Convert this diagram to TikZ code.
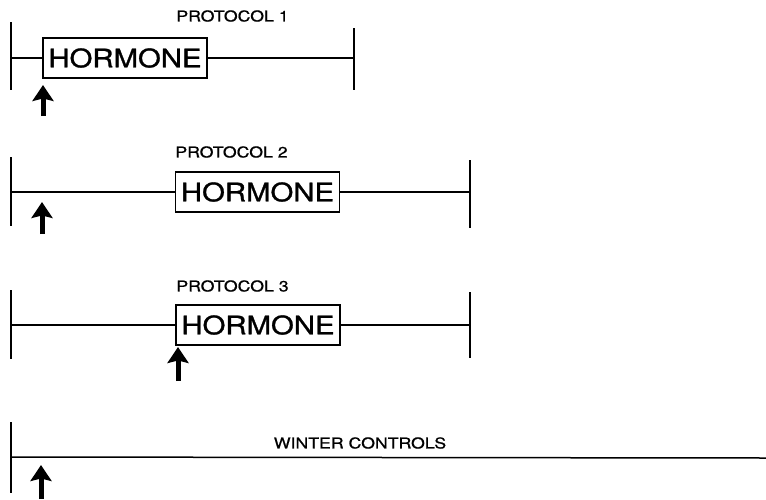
\documentclass[tikz,border=0pt]{standalone}
\usepackage{fontspec}
\setmainfont{TeX Gyre Heros}
\newfontfamily\boxfont[FakeStretch=1.15,FakeBold=1.2]{TeX Gyre Heros}
\newfontfamily\lblfont[FakeStretch=1.18,FakeBold=0.8]{TeX Gyre Heros}
\usetikzlibrary{arrows.meta}
\tikzset{
  hbox/.style={draw, line width=1.5pt, inner sep=0pt, minimum width=164pt, minimum height=40pt,
    font=\boxfont\fontsize{25.5}{25.5}\selectfont},
  lbl/.style={inner sep=0pt, font=\lblfont\fontsize{15}{15}\selectfont},
  tickline/.style={line width=2pt},
  tline/.style={line width=1.5pt},
  uparrow/.style={line width=5pt, -{Stealth[length=16pt,width=21pt,inset=2.5pt]}}
}
\begin{document}
\begin{tikzpicture}[x=1pt,y=-1pt]
\useasboundingbox (0,0) rectangle (766,499);
% Row 1
\coordinate (L1t) at (11,22); \coordinate (L1b) at (11,90); \coordinate (L1m) at (11,58);
\coordinate (R1t) at (354,28); \coordinate (R1b) at (354,90); \coordinate (R1m) at (354,58);
\node[hbox] (H1) at (125,58) {HORMONE};
\node[lbl] (P1) at (232.5,16) {PROTOCOL 1};
\draw[tickline] (L1t) -- (L1b);
\draw[tickline] (R1t) -- (R1b);
\draw[tline] (L1m) -- (H1.west);
\draw[tline] (H1.east) -- (R1m);
\coordinate (A1b) at (43,116); \coordinate (A1t) at (43,85);
\draw[uparrow] (A1b) -- (A1t);
% Row 2
\coordinate (L2t) at (11,157); \coordinate (L2b) at (11,226); \coordinate (L2m) at (11,192);
\coordinate (R2t) at (470,160); \coordinate (R2b) at (470,228); \coordinate (R2m) at (470,192);
\node[hbox] (H2) at (257.5,192) {HORMONE};
\node[lbl] (P2) at (231.5,152) {PROTOCOL 2};
\draw[tickline] (L2t) -- (L2b);
\draw[tickline] (R2t) -- (R2b);
\draw[tline] (L2m) -- (H2.west);
\draw[tline] (H2.east) -- (R2m);
\coordinate (A2b) at (42,234); \coordinate (A2t) at (42,202);
\draw[uparrow] (A2b) -- (A2t);
% Row 3
\coordinate (L3t) at (11,290); \coordinate (L3b) at (11,359); \coordinate (L3m) at (11,325);
\coordinate (R3t) at (470,292); \coordinate (R3b) at (470,358); \coordinate (R3m) at (470,325);
\node[hbox] (H3) at (258,325) {HORMONE};
\node[lbl] (P3) at (232.5,286) {PROTOCOL 3};
\draw[tickline] (L3t) -- (L3b);
\draw[tickline] (R3t) -- (R3b);
\draw[tline] (L3m) -- (H3.west);
\draw[tline] (H3.east) -- (R3m);
\coordinate (A3b) at (178,381); \coordinate (A3t) at (178,347);
\draw[uparrow] (A3b) -- (A3t);
% Row 4
\coordinate (L4t) at (11,422); \coordinate (L4b) at (11,493); \coordinate (L4m) at (11,457);
\coordinate (R4m) at (766,458);
\node[lbl] (W) at (360,443) {WINTER CONTROLS};
\draw[tickline] (L4t) -- (L4b);
\draw[tline] (L4m) -- (R4m);
\coordinate (A4b) at (41,499); \coordinate (A4t) at (41,465);
\draw[uparrow] (A4b) -- (A4t);
\end{tikzpicture}
\end{document}
